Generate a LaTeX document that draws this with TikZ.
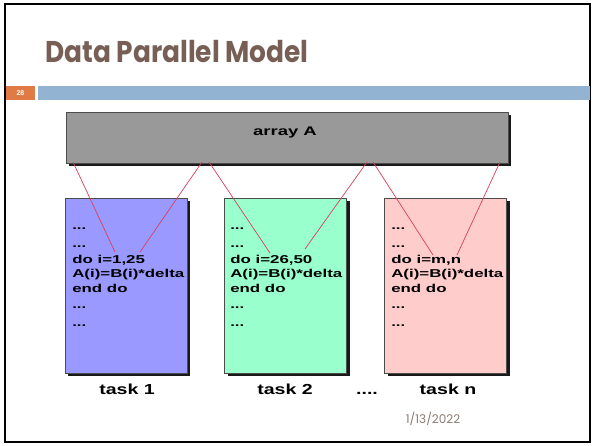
\documentclass[tikz,border=0pt]{standalone}
\usepackage{fontspec}
\setmainfont{Liberation Sans}
\newfontfamily\titlefont[FakeStretch=0.88]{Poppins}
\newfontfamily\datefont{Poppins}
\newfontfamily\codefont[FakeStretch=1.48]{Liberation Sans}
\newfontfamily\labelfont[FakeStretch=1.35]{Liberation Sans}
\usetikzlibrary{shadows}
\definecolor{titlebrown}{HTML}{775F55}
\definecolor{dategray}{HTML}{8B7D75}
\definecolor{numorange}{HTML}{E07B45}
\definecolor{barblue}{HTML}{93B3D3}
\definecolor{arraygray}{HTML}{999999}
\definecolor{taskblue}{HTML}{9999FF}
\definecolor{taskgreen}{HTML}{99FFCC}
\definecolor{taskpink}{HTML}{FFCCCC}
\definecolor{linkred}{HTML}{D8405A}

\begin{document}
\begin{tikzpicture}[x=1pt, y=-1pt, semithick]
\tikzstyle{box}=[draw=black!70, thin, inner sep=0pt,
  general shadow={fill=black, opacity=0.9, shadow xshift=3pt, shadow yshift=-3pt}]
\tikzstyle{taskbox}=[box, minimum width=122pt, minimum height=175pt]
\tikzstyle{code}=[anchor=base west, inner sep=0pt, font=\codefont\bfseries\fontsize{11.4}{13}\selectfont]
\tikzstyle{tasklabel}=[anchor=base, inner sep=0pt, font=\labelfont\bfseries\fontsize{14.5}{16}\selectfont]
\tikzstyle{link}=[draw=linkred, line width=0.7pt]

\useasboundingbox (0,0) rectangle (593,445);
\fill[white] (0,0) rectangle (593,445);
\draw[line width=2pt] (5,4) rectangle (590,442);

\node[anchor=base west, inner sep=0pt, text=titlebrown,
  font=\titlefont\bfseries\fontsize{30}{34}\selectfont] (title) at (45,62) {Data Parallel Model};
\fill[numorange] (6,86) rectangle (35,100);
\node[text=white, inner sep=0pt, font=\bfseries\fontsize{7}{8}\selectfont] (num) at (20.5,93) {28};
\fill[barblue] (38,86) rectangle (590,100);

\node[box, fill=arraygray, minimum width=442pt, minimum height=51pt] (arr) at (287,137.5) {};
\node[inner sep=0pt, font=\codefont\bfseries\fontsize{12.5}{14}\selectfont] (arrtxt) at (285,132) {array A};

\node[taskbox, fill=taskblue]  (t1) at (126,285.5) {};
\node[taskbox, fill=taskgreen] (t2) at (285.5,285.5) {};
\node[taskbox, fill=taskpink]  (t3) at (445.5,285.5) {};

\foreach \k/\x/\doline in {1/72/{do i=1,25}, 2/230/{do i=26,50}, 3/391/{do i=m,n}}{
  \foreach \y/\txt [count=\j] in {229/{...}, 247/{...}, 263/{\doline}, 277/{A(i)=B(i)*delta},
      292/{end do}, 308/{...}, 326/{...}}
    \node[code] (c\k-\j) at (\x,\y) {\txt};
}

\node[tasklabel] (l1) at (127,394) {task 1};
\node[tasklabel] (l2) at (285,394) {task 2};
\node[tasklabel] (ldots) at (367,394) {....};
\node[tasklabel] (l3) at (448,394) {task n};

\node[text=dategray, inner sep=0pt, font=\datefont\fontsize{12}{14}\selectfont] (date) at (433,419) {1/13/2022};

\coordinate (a1) at (73,162);  \coordinate (e1) at (115,252);
\coordinate (a2) at (202,162); \coordinate (e2) at (140,252);
\coordinate (a3) at (209,162); \coordinate (e3) at (270,253);
\coordinate (a4) at (367,162); \coordinate (e4) at (305,249);
\coordinate (a5) at (373,162); \coordinate (e5) at (433,255);
\coordinate (a6) at (500,162); \coordinate (e6) at (457,255);
\foreach \i in {1,...,6}
  \draw[link] (a\i) -- (e\i);
\end{tikzpicture}
\end{document}
